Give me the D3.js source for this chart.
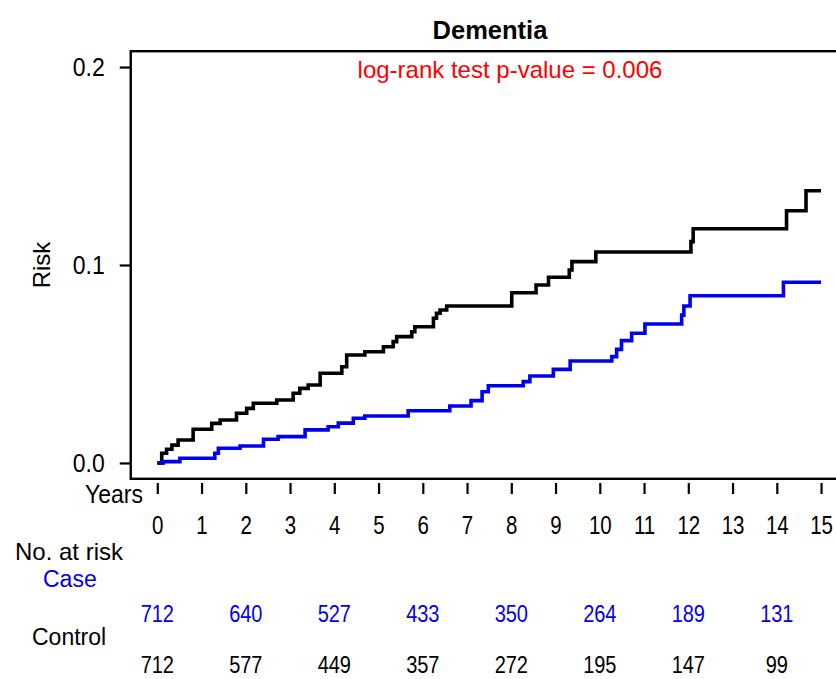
<!DOCTYPE html>
<html>
<head>
<meta charset="utf-8">
<script src="https://cdn.jsdelivr.net/npm/d3@7/dist/d3.min.js"></script>
<style>
  body { margin: 0; background: #fff; }
  text { font-family: "Liberation Sans", Arial, sans-serif; }
</style>
</head>
<body>
<svg id="KmPlot"></svg>
<script>
const WidthTotal = 836;
const HeightTotal = 679;

// jump times (years) and cumulative risk after each jump
const controlTimes = [0.10, 0.21, 0.33, 0.47, 0.81, 1.23, 1.42, 1.79, 2.02, 2.17, 2.70, 3.07, 3.22, 3.41,
  3.68, 4.17, 4.28, 4.69, 5.11, 5.33, 5.41, 5.75, 5.82, 6.24, 6.31, 6.39, 6.54, 8.01, 8.56, 8.84,
  9.31, 9.37, 9.91, 12.06, 12.11, 14.22, 14.66];
const controlRisk = [0.0049, 0.0069, 0.0090, 0.0116, 0.0170, 0.0200, 0.0217, 0.0251, 0.0276, 0.0302, 0.0318, 0.0352, 0.0377, 0.0394,
  0.0453, 0.0486, 0.0545, 0.0562, 0.0587, 0.0613, 0.0638, 0.0663, 0.0688, 0.0731, 0.0756, 0.0773, 0.0793, 0.0860, 0.0899, 0.0938,
  0.0975, 0.1017, 0.1066, 0.1118, 0.1183, 0.1274, 0.1375];

const caseTimes = [0.14, 0.51, 1.30, 1.38, 1.87, 2.40, 2.73, 3.34, 3.86, 4.09, 4.43, 4.69, 5.67, 6.61,
  7.09, 7.34, 7.48, 8.27, 8.42, 8.95, 9.33, 10.27, 10.38, 10.49, 10.72, 11.02, 11.85, 11.90, 12.04, 14.15];
const caseRisk = [0.0007, 0.0024, 0.0049, 0.0074, 0.0086, 0.0120, 0.0133, 0.0167, 0.0183, 0.0201, 0.0226, 0.0237, 0.0264, 0.0288,
  0.0315, 0.0360, 0.0390, 0.0411, 0.0439, 0.0473, 0.0515, 0.0537, 0.0574, 0.0618, 0.0655, 0.0702, 0.0747, 0.0793, 0.0845, 0.0913];

const endYear = 15;
const xTicks = [0, 1, 2, 3, 4, 5, 6, 7, 8, 9, 10, 11, 12, 13, 14, 15];
const yTicks = [0, 0.1, 0.2];

// number at risk table
const riskYears = [0, 2, 4, 6, 8, 10, 12, 14];
const caseAtRisk = [712, 640, 527, 433, 350, 264, 189, 131];
const controlAtRisk = [712, 577, 449, 357, 272, 195, 147, 99];

const caseColor = "#0000ee";
const numStretch = 1.22; // the picture's digits are drawn taller than wide

const MySpace = d3.select("#KmPlot")
  .attr("width", WidthTotal)
  .attr("height", HeightTotal);

// plot region like R: 4% padding on each side of the data range
const x = d3.scaleLinear().domain([-0.6, 15.6]).range([130.75, 847.6]);
const y = d3.scaleLinear().domain([-0.008, 0.208]).range([478.8, 51.2]);

const toSteps = (times, risk) => {
  const pts = [[0, 0]];
  times.forEach((t, i) => pts.push([t, risk[i]]));
  pts.push([endYear, risk[risk.length - 1]]);
  return pts;
};

const line = d3.line()
  .x(d => x(d[0]))
  .y(d => y(d[1]))
  .curve(d3.curveStepAfter);

MySpace.append("path")
  .datum(toSteps(controlTimes, controlRisk))
  .attr("d", line)
  .attr("fill", "none")
  .attr("stroke", "#000")
  .attr("stroke-width", 3.6);

MySpace.append("path")
  .datum(toSteps(caseTimes, caseRisk))
  .attr("d", line)
  .attr("fill", "none")
  .attr("stroke", caseColor)
  .attr("stroke-width", 3.6);

// box
MySpace.append("rect")
  .attr("x", x.range()[0])
  .attr("y", y.range()[1])
  .attr("width", x.range()[1] - x.range()[0])
  .attr("height", y.range()[0] - y.range()[1])
  .attr("fill", "none")
  .attr("stroke", "#000")
  .attr("stroke-width", 2.4);

// y axis
const yAxisG = MySpace.append("g")
  .attr("transform", `translate(${x.range()[0]},0)`)
  .call(d3.axisLeft(y).tickValues(yTicks).tickFormat(d3.format(".1f")).tickSize(11).tickPadding(15));
yAxisG.select(".domain").remove();
yAxisG.selectAll(".tick line").attr("stroke-width", 2.2);
yAxisG.selectAll(".tick text")
  .attr("font-size", 23)
  .attr("font-family", "Liberation Sans, Arial, sans-serif")
  .attr("fill", "#000")
  .attr("transform", "scale(1,1.12)");

// x axis, drawn just under the box
const xAxisG = MySpace.append("g")
  .attr("transform", "translate(0,483)")
  .call(d3.axisBottom(x).tickValues(xTicks).tickSize(11).tickPadding(16.5));
xAxisG.select(".domain").remove();
xAxisG.selectAll(".tick line").attr("stroke-width", 2.2);
xAxisG.selectAll(".tick text")
  .attr("font-size", 20.5)
  .attr("font-family", "Liberation Sans, Arial, sans-serif")
  .attr("fill", "#000")
  .attr("transform", `scale(1,${numStretch})`);

MySpace.append("text")
  .attr("x", 143).attr("y", 503)
  .attr("text-anchor", "end")
  .attr("font-size", 23)
  .attr("transform", "translate(0,-60) scale(1,1.12)")
  .text("Years");

MySpace.append("text")
  .attr("transform", "translate(50,265) rotate(-90)")
  .attr("text-anchor", "middle")
  .attr("font-size", 24)
  .text("Risk");

// titles
MySpace.append("text")
  .attr("x", 490).attr("y", 39)
  .attr("text-anchor", "middle")
  .attr("font-size", 25.5)
  .attr("font-weight", "bold")
  .text("Dementia");

MySpace.append("text")
  .attr("x", 510).attr("y", 78)
  .attr("text-anchor", "middle")
  .attr("font-size", 24)
  .attr("fill", "#ff0000")
  .text("log-rank test p-value = 0.006");

// at risk table
MySpace.append("text")
  .attr("x", 15).attr("y", 560)
  .attr("font-size", 24)
  .text("No. at risk");

MySpace.append("text")
  .attr("x", 43).attr("y", 587)
  .attr("font-size", 23)
  .attr("fill", caseColor)
  .text("Case");

MySpace.append("text")
  .attr("x", 32).attr("y", 645)
  .attr("font-size", 23)
  .text("Control");

MySpace.selectAll(".caseRisk")
  .data(caseAtRisk)
  .enter()
  .append("text")
    .attr("class", "caseRisk")
    .attr("transform", (d, i) => `translate(${x(riskYears[i])},622) scale(1,${numStretch})`)
    .attr("text-anchor", "middle")
    .attr("font-size", 20)
    .attr("fill", caseColor)
    .text(d => d);

MySpace.selectAll(".controlRisk")
  .data(controlAtRisk)
  .enter()
  .append("text")
    .attr("class", "controlRisk")
    .attr("transform", (d, i) => `translate(${x(riskYears[i])},673) scale(1,${numStretch})`)
    .attr("text-anchor", "middle")
    .attr("font-size", 20)
    .attr("fill", "#000")
    .text(d => d);
</script>
</body>
</html>
